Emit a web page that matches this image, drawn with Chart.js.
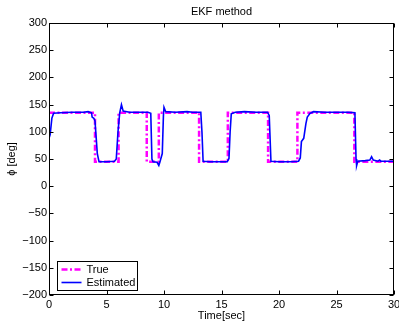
<!DOCTYPE html>
<html lang="en">

<head>
    <meta charset="UTF-8">
    <title>EKF method</title>
    <script src="https://cdn.jsdelivr.net/npm/chart.js"></script>
    <style>
        html, body { margin: 0; padding: 0; background: #fff; }
        #graph { width: 399px; height: 321px; }
    </style>
</head>

<body>
    <div id="graph">
        <canvas id="myChart"></canvas>
    </div>
</body>

<script>
    // tick labels
    const xTicks = [0, 5, 10, 15, 20, 25, 30]
    const yTicks = [-200, -150, -100, -50, 0, 50, 100, 150, 200, 250, 300]

    // true angle (square wave, each switch time listed twice)
    const trueTime = [0, 4, 4, 6.05, 6.05, 8.5, 8.5, 9.55, 9.55, 13.05, 13.05, 15.55, 15.55, 19.05, 19.05, 21.6, 21.6, 26.55, 26.55, 30]
    const trueVal = [135, 135, 45, 45, 135, 135, 45, 45, 135, 135, 45, 45, 135, 135, 45, 45, 135, 135, 45, 45]

    // estimated angle
    const estTime = [0, 0.1, 0.25, 0.4, 1, 2, 3, 3.4, 3.7, 3.75, 3.9, 4.0, 4.2, 4.35, 5, 5.7, 5.85, 6.0, 6.15, 6.3, 6.45, 7, 8, 8.6, 8.85, 8.95, 9.05, 9.4, 9.55, 9.65, 9.85, 9.95, 10.0, 10.15, 11, 12, 12.5, 13.2, 13.3, 13.4, 14, 15,
        15.5, 15.65, 15.75, 15.85, 16.2, 17, 18, 19, 19.15, 19.3, 20, 21, 21.7, 21.85, 21.95, 22.15, 22.34, 22.46, 22.7, 23.0, 24, 25, 26, 26.6, 26.7, 26.75, 26.85, 27.5, 27.9, 28.05, 28.2, 28.6, 28.75, 28.85, 30]
    const estVal = [88, 95, 125, 134, 135, 136, 136, 137, 135, 127, 125, 120, 60, 45, 45, 46, 50, 100, 135, 150, 138, 136, 136, 136, 134, 50, 45, 44, 38, 45, 60, 130, 145, 137, 136, 137, 136, 136, 100, 46, 45, 45,
        45, 51, 100, 133, 136, 137, 136, 136, 130, 46, 45, 45, 46, 52, 82, 88, 115, 127, 134, 137, 136, 136, 136, 135, 50, 38, 46, 47, 48, 54, 48, 46, 48, 46, 46]

    const fonte = '"Liberation Sans", Arial, Helvetica, sans-serif'

    function pontos(t, v) {
        return t.map((x, i) => ({ x: x, y: v[i] }))
    }

    function menos(v) {
        return String(v).replace('-', '\u2212')
    }

    // caixa, ticks para dentro, titulo e legenda estilo MATLAB
    const matlabBox = {
        id: 'matlabBox',
        afterDatasetsDraw(chart) {
            const ctx = chart.ctx
            const a = chart.chartArea
            const sx = chart.scales.x
            const sy = chart.scales.y
            const L = Math.round(a.left) + 0.5, R = Math.round(a.right) - 0.5
            const T = Math.round(a.top) + 0.5, B = Math.round(a.bottom) - 0.5
            const tk = 4

            ctx.save()
            ctx.strokeStyle = '#000'
            ctx.lineWidth = 1
            ctx.beginPath()
            xTicks.forEach(v => {
                const px = Math.round(sx.getPixelForValue(v)) + 0.5
                ctx.moveTo(px, B); ctx.lineTo(px, B - tk)
                ctx.moveTo(px, T); ctx.lineTo(px, T + tk)
            })
            yTicks.forEach(v => {
                const py = Math.round(sy.getPixelForValue(v)) + 0.5
                ctx.moveTo(L, py); ctx.lineTo(L + tk, py)
                ctx.moveTo(R, py); ctx.lineTo(R - tk, py)
            })
            ctx.stroke()
            ctx.strokeRect(L, T, R - L, B - T)

            // titulo
            ctx.fillStyle = '#000'
            ctx.font = '11px ' + fonte
            ctx.textAlign = 'center'
            ctx.textBaseline = 'middle'
            ctx.fillText('EKF method', (a.left + a.right) / 2, 12)

            // legenda
            const lx = 57.5, ly = 261.5, lw = 80, lh = 29
            ctx.fillStyle = '#fff'
            ctx.fillRect(lx, ly, lw, lh)
            ctx.strokeStyle = '#000'
            ctx.strokeRect(lx, ly, lw, lh)
            const linhas = [8, 21]
            chart.data.datasets.forEach((ds, i) => {
                const yy = ly + linhas[i]
                ctx.strokeStyle = ds.borderColor
                ctx.lineWidth = ds.borderWidth
                ctx.setLineDash(ds.borderDash || [])
                ctx.beginPath()
                ctx.moveTo(lx + 4, yy)
                ctx.lineTo(lx + 24, yy)
                ctx.stroke()
                ctx.setLineDash([])
                ctx.fillStyle = '#000'
                ctx.textAlign = 'left'
                ctx.fillText(ds.label, lx + 29, yy)
            })
            ctx.restore()
        }
    }

    function grafico() {
        const ctx = document.getElementById('myChart')

        new Chart(ctx, {
            type: 'line',
            data: {
                datasets: [{
                    label: 'True',
                    data: pontos(trueTime, trueVal),
                    borderColor: '#ff00ff',
                    borderWidth: 2.5,
                    borderDash: [6, 2.5, 2, 2.5],
                    pointRadius: 0,
                    order: 2
                },
                {
                    label: 'Estimated',
                    data: pontos(estTime, estVal),
                    borderColor: '#0000ff',
                    borderWidth: 1.6,
                    pointRadius: 0,
                    tension: 0,
                    order: 1
                }]
            },
            options: {
                responsive: true,
                maintainAspectRatio: false,
                animation: false,
                devicePixelRatio: 1,
                layout: { padding: { top: 23, right: 5, left: 0, bottom: 0 } },
                plugins: {
                    legend: { display: false },
                    tooltip: { enabled: false }
                },
                scales: {
                    x: {
                        type: 'linear',
                        min: 0,
                        max: 30,
                        grid: { display: false, drawTicks: false },
                        border: { display: false },
                        afterBuildTicks: s => { s.ticks = xTicks.map(v => ({ value: v })) },
                        afterFit: s => { s.height = 26; s.paddingLeft = 0; s.paddingRight = 0 },
                        ticks: {
                            color: '#000',
                            padding: 3,
                            maxRotation: 0,
                            font: { family: fonte, size: 11 },
                            callback: v => menos(v)
                        },
                        title: {
                            display: true,
                            text: 'Time[sec]',
                            color: '#000',
                            padding: 0,
                            font: { family: fonte, size: 11, lineHeight: 1 }
                        }
                    },
                    y: {
                        min: -200,
                        max: 300,
                        grid: { display: false, drawTicks: false },
                        border: { display: false },
                        afterBuildTicks: s => { s.ticks = yTicks.map(v => ({ value: v })) },
                        afterFit: s => { s.width = 49 },
                        ticks: {
                            color: '#000',
                            padding: 2,
                            font: { family: fonte, size: 11 },
                            callback: v => menos(v)
                        },
                        title: {
                            display: true,
                            text: 'ϕ [deg]',
                            color: '#000',
                            padding: { top: 5, bottom: 0 },
                            font: { family: fonte, size: 11, lineHeight: 1.2 }
                        }
                    }
                }
            },
            plugins: [matlabBox]
        })
    }
    window.onload = grafico()
</script>

</html>
